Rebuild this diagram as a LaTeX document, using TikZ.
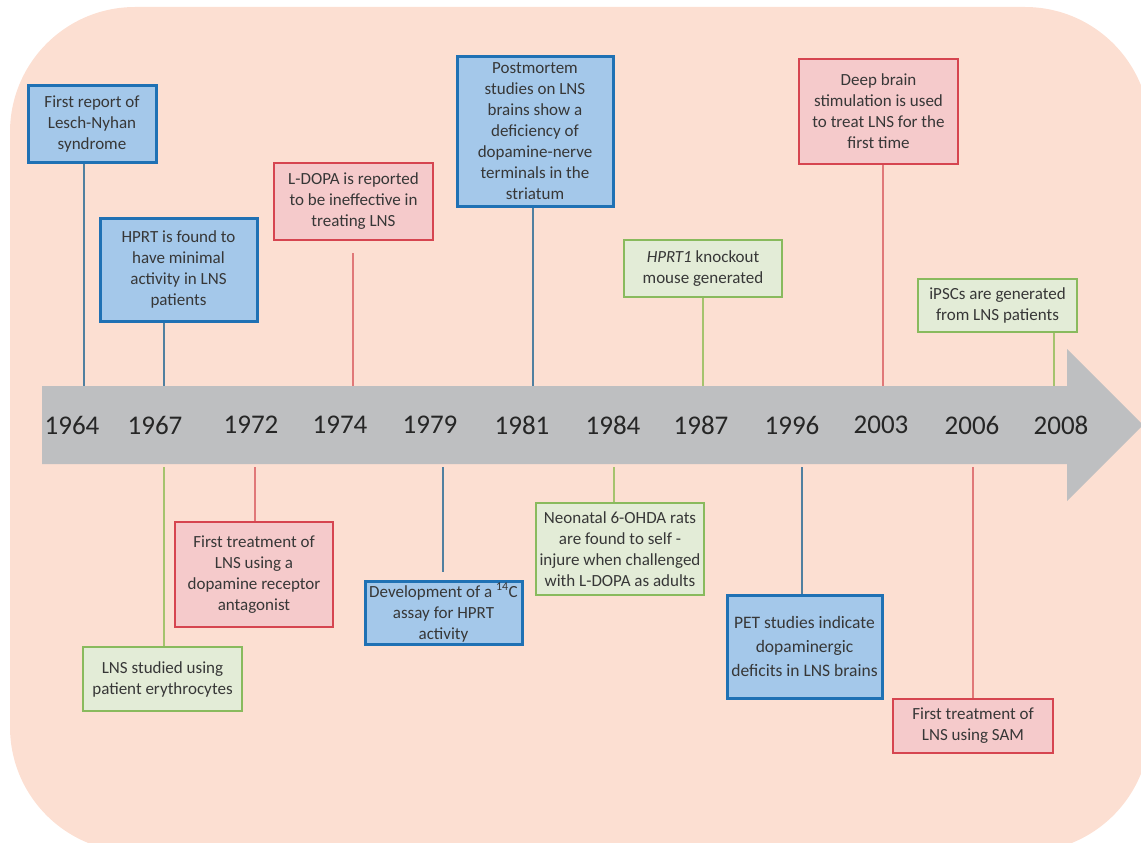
\documentclass[tikz,border=0pt]{standalone}
\usepackage{fontspec}
\setmainfont{Carlito}
\definecolor{bgpeach}{RGB}{252,223,210}
\definecolor{arrowgray}{RGB}{190,191,193}
\definecolor{bluefill}{RGB}{164,200,234}
\definecolor{blueborder}{RGB}{31,113,180}
\definecolor{redfill}{RGB}{245,202,203}
\definecolor{redborder}{RGB}{214,69,80}
\definecolor{greenfill}{RGB}{227,236,215}
\definecolor{greenborder}{RGB}{137,186,93}
\definecolor{blueline}{RGB}{80,128,160}
\definecolor{redline}{RGB}{224,120,120}
\definecolor{greenline}{RGB}{165,195,110}
\definecolor{txt}{RGB}{55,55,55}
\begin{document}
\begin{tikzpicture}[x=1pt,y=-1pt,
  evbox/.style={rectangle, align=center, inner sep=0pt, text=txt,
    font=\fontsize{17}{21}\selectfont},
  bluebox/.style={evbox, fill=bluefill, draw=blueborder, line width=3pt},
  redbox/.style={evbox, fill=redfill, draw=redborder, line width=2.2pt},
  greenbox/.style={evbox, fill=greenfill, draw=greenborder, line width=2.2pt},
  bl/.style={draw=blueline, line width=1.4pt},
  rl/.style={draw=redline, line width=1.4pt},
  gl/.style={draw=greenline, line width=1.4pt},
  year/.style={text=black!85, font=\fontsize{27}{30}\selectfont, inner sep=0pt}]
\useasboundingbox (0,0) rectangle (1141,843);
\clip (0,0) rectangle (1141,843);
% background
\fill[bgpeach, rounded corners=125pt] (10,7) rectangle (1150,852);
% timeline arrow
\fill[arrowgray] (42,386) -- (1067,386) -- (1067,349) -- (1143,425) -- (1067,501) -- (1067,464) -- (42,464) -- cycle;
% years
\node[year] (y1964) at (72,425) {1964};
\node[year] (y1967) at (155,425) {1967};
\node[year] (y1972) at (251,425) {1972};
\node[year] (y1974) at (340,425) {1974};
\node[year] (y1979) at (430,425) {1979};
\node[year] (y1981) at (522,425) {1981};
\node[year] (y1984) at (613,425) {1984};
\node[year] (y1987) at (701,425) {1987};
\node[year] (y1996) at (792,425) {1996};
\node[year] (y2003) at (881,425) {2003};
\node[year] (y2006) at (972,425) {2006};
\node[year] (y2008) at (1061,425) {2008};
% anchor points on the arrow
\coordinate (t1964) at (84,386);
\coordinate (t1967) at (164,386);
\coordinate (t1974) at (353,386);
\coordinate (t1981) at (533,386);
\coordinate (t1987) at (703,386);
\coordinate (t2003) at (883,386);
\coordinate (t2008) at (1054,386);
\coordinate (u1967) at (164,467);
\coordinate (u1972) at (255,467);
\coordinate (u1979) at (443,467);
\coordinate (u1984) at (614,467);
\coordinate (u1996) at (802,467);
\coordinate (u2006) at (973,467);
% top boxes
\node[bluebox, minimum width=128pt, minimum height=76pt] (b1964) at (92,124)
  {First report of\\Lesch-Nyhan\\syndrome};
\node[bluebox, minimum width=157pt, minimum height=103pt] (b1967t) at (178.5,269.5)
  {HPRT is found to\\have minimal\\activity in LNS\\patients};
\node[redbox, minimum width=159pt, minimum height=77pt] (b1974) at (353.5,201.5)
  {L-DOPA is reported\\to be ineffective in\\treating LNS};
\node[bluebox, minimum width=156pt, minimum height=149pt] (b1981) at (535,131.5)
  {Postmortem\\studies on LNS\\brains show a\\deficiency of\\dopamine-nerve\\terminals in the\\striatum};
\node[greenbox, minimum width=158pt, minimum height=57pt] (b1987) at (703,268.5)
  {\textit{HPRT1} knockout\\mouse generated};
\node[redbox, minimum width=159pt, minimum height=105pt] (b2003) at (878.5,111.5)
  {Deep brain\\stimulation is used\\to treat LNS for the\\first time};
\node[greenbox, minimum width=159pt, minimum height=53pt] (b2008) at (997.5,305.5)
  {iPSCs are generated\\from LNS patients};
% bottom boxes
\node[greenbox, minimum width=159pt, minimum height=64pt] (b1967b) at (162.5,679)
  {LNS studied using\\patient erythrocytes};
\node[redbox, minimum width=158pt, minimum height=105pt] (b1972) at (254,574.5)
  {First treatment of\\LNS using a\\dopamine receptor\\antagonist};
\node[bluebox, minimum width=157pt, minimum height=63pt] (b1979) at (443.5,612.5)
  {Development of a \textsuperscript{14}C\\assay for HPRT\\activity};
\node[greenbox, minimum width=168pt, minimum height=92pt] (b1984) at (620,549)
  {Neonatal 6-OHDA rats\\are found to self -\\injure when challenged\\with L-DOPA as adults};
\node[bluebox, minimum width=155pt, minimum height=103pt, font=\fontsize{17.5}{24}\selectfont] (b1996) at (804.5,646.5)
  {PET studies indicate\\dopaminergic\\deficits in LNS brains};
\node[redbox, minimum width=160pt, minimum height=54pt] (b2006) at (973,726)
  {First treatment of\\LNS using SAM};
% connectors
\draw[bl] (b1964.south -| t1964) -- (t1964);
\draw[bl] (b1967t.south -| t1967) -- (t1967);
\draw[rl, shorten <=12pt] (b1974.south -| t1974) -- (t1974);
\draw[bl] (b1981.south -| t1981) -- (t1981);
\draw[gl] (b1987.south -| t1987) -- (t1987);
\draw[rl] (b2003.south -| t2003) -- (t2003);
\draw[gl] (b2008.south -| t2008) -- (t2008);
\draw[gl] (u1967) -- (b1967b.north -| u1967);
\draw[rl] (u1972) -- (b1972.north -| u1972);
\draw[bl, shorten >=8pt] (u1979) -- (b1979.north -| u1979);
\draw[gl] (u1984) -- (b1984.north -| u1984);
\draw[bl] (u1996) -- (b1996.north -| u1996);
\draw[rl] (u2006) -- (b2006.north -| u2006);
\end{tikzpicture}
\end{document}
